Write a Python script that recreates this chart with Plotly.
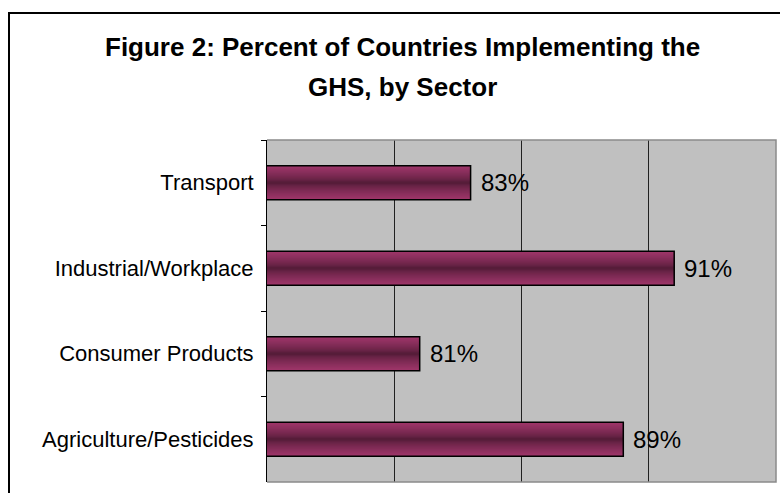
import plotly.graph_objects as go

# ---- data -------------------------------------------------------------
sectors = ["Transport", "Industrial/Workplace", "Consumer Products", "Agriculture/Pesticides"]
percent = [83, 91, 81, 89]
title_lines = ["Figure 2: Percent of Countries Implementing the", "GHS, by Sector"]

# ---- layout geometry (pixels) -----------------------------------------
W, H = 780, 493
PL, PR, PT, PB = 267, 776, 140, 482


def fx(px):
    return (px - PL) / (PR - PL)


def fy(py):
    return (PB - py) / (PB - PT)


BAR_W = 0.4
EDGE = (158, 54, 106)   # light plum at the bar edges
CORE = (72, 24, 48)     # dark plum along the bar centre


def mix(d):
    t = d ** 0.65
    return "rgb({},{},{})".format(*[round(c + (e - c) * t) for e, c in zip(EDGE, CORE)])


fig = go.Figure()

# cylinder shading: stacked bars of shrinking thickness
N = 17
for i in range(N):
    d = 1 - i / N
    fig.add_trace(go.Bar(
        x=percent, y=sectors, orientation="h", width=BAR_W * d,
        marker=dict(color=mix(d), line=dict(width=0)),
        hoverinfo="skip", showlegend=False,
    ))

# outline on top
fig.add_trace(go.Bar(
    x=percent, y=sectors, orientation="h", width=BAR_W,
    marker=dict(color="rgba(0,0,0,0)", line=dict(color="black", width=1.5)),
    hovertemplate="%{y}: %{x}%<extra></extra>", showlegend=False,
))

annotations = []
for s, v in zip(sectors, percent):
    annotations.append(dict(
        x=v, y=s, xref="x", yref="y", text=f"{v}%", showarrow=False,
        xanchor="left", yanchor="middle", xshift=8,
        font=dict(family="Liberation Sans, Arial, sans-serif", size=24, color="black"),
    ))

for text, py in zip(title_lines, [47, 87]):
    annotations.append(dict(
        x=fx(402), y=fy(py), xref="paper", yref="paper", text=f"<b>{text}</b>",
        showarrow=False, xanchor="center", yanchor="middle",
        font=dict(family="Liberation Sans, Arial, sans-serif", size=26, color="black"),
    ))

shapes = [
    # chart frame
    dict(type="rect", xref="paper", yref="paper",
         x0=fx(9), x1=fx(W + 20), y0=fy(H + 20), y1=fy(13),
         line=dict(color="black", width=2), fillcolor="rgba(0,0,0,0)", layer="below"),
    # plot-area border (top, right, bottom)
    dict(type="path", xref="paper", yref="paper",
         path="M 0,1 L 1,1 L 1,0 L 0,0",
         line=dict(color="#8a8a8a", width=1.5), layer="above"),
]

fig.update_layout(
    width=W, height=H,
    margin=dict(l=PL, r=W - PR, t=PT, b=H - PB, pad=0),
    paper_bgcolor="white", plot_bgcolor="#c0c0c0",
    barmode="overlay",
    annotations=annotations, shapes=shapes,
    font=dict(family="Liberation Sans, Arial, sans-serif", color="black"),
)

fig.update_xaxes(
    range=[75, 95], tick0=75, dtick=5, showticklabels=False, ticks="",
    showgrid=True, gridcolor="#202020", gridwidth=1, zeroline=False, showline=False,
)
fig.update_yaxes(
    type="category", autorange="reversed",
    ticks="outside", tickson="boundaries", ticklen=5, tickcolor="black", tickwidth=1,
    showline=True, linecolor="black", linewidth=1, showgrid=False,
    ticklabelstandoff=8,
    tickfont=dict(family="Liberation Sans, Arial, sans-serif", size=22, color="black"),
)

fig.write_html("out.html")
